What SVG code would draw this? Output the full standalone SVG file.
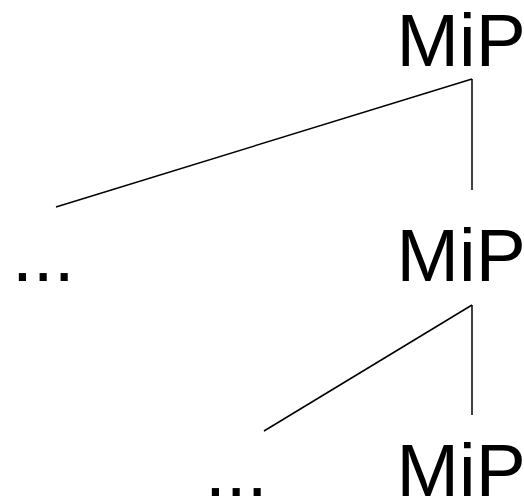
<svg xmlns="http://www.w3.org/2000/svg" width="524" height="499" viewBox="0 0 524 499">
<style>
.t{font-family:"Liberation Sans",Arial,sans-serif;font-size:75px;fill:#000}
.c line{stroke:#000;stroke-width:1.5;fill:none}
</style>
<rect width="524" height="499" fill="#fff"/>
<g class="c" id="connectors">
<line x1="472" y1="79" x2="472" y2="190"/>
<line x1="472" y1="79" x2="56" y2="207"/>
<line x1="472" y1="305" x2="472" y2="415"/>
<line x1="472" y1="305" x2="264" y2="431"/>
</g>
<g id="n1"><text class="t" x="396.5" y="66">MiP</text></g>
<g id="n2"><text class="t" x="396.5" y="281">MiP</text></g>
<g id="n3"><text class="t" x="12" y="281">...</text></g>
<g id="n4"><text class="t" x="396.5" y="496">MiP</text></g>
<g id="n5"><text class="t" x="205" y="496">...</text></g>
</svg>
